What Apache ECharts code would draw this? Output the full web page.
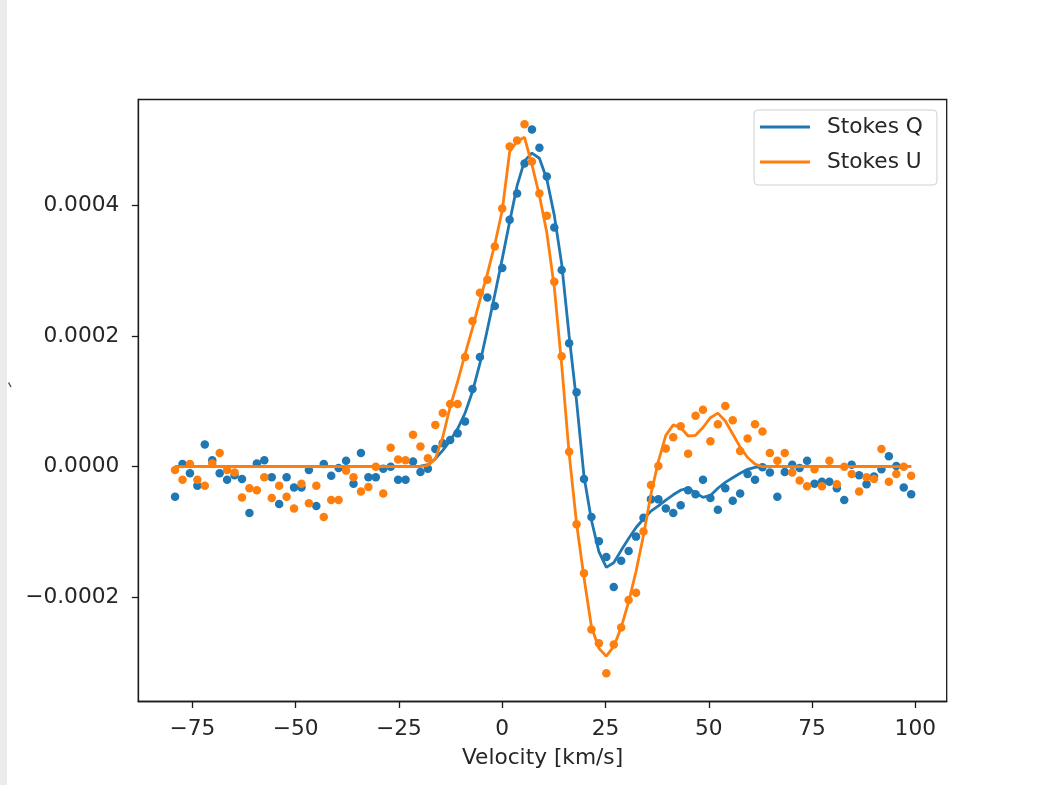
<!DOCTYPE html>
<html>
<head>
<meta charset="utf-8">
<script src="https://cdn.jsdelivr.net/npm/echarts@6/dist/echarts.min.js"></script>
<style>
  html, body { margin: 0; padding: 0; background: #ffffff; }
  #chart { width: 1039px; height: 785px; }
</style>
</head>
<body>
<div id="chart"></div>
<script>
// Velocity grid (km/s)
const velocity = [
  -79.2, -77.4, -75.6, -73.8, -72.0, -70.2, -68.4, -66.6, -64.8, -63.0,
  -61.2, -59.4, -57.6, -55.8, -54.0, -52.2, -50.4, -48.6, -46.8, -45.0,
  -43.2, -41.4, -39.6, -37.8, -36.0, -34.2, -32.4, -30.6, -28.8, -27.0,
  -25.2, -23.4, -21.6, -19.8, -18.0, -16.2, -14.4, -12.6, -10.8, -9.0,
  -7.2, -5.4, -3.6, -1.8, 0.0, 1.8, 3.6, 5.4, 7.2, 9.0,
  10.8, 12.6, 14.4, 16.2, 18.0, 19.8, 21.6, 23.4, 25.2, 27.0,
  28.8, 30.6, 32.4, 34.2, 36.0, 37.8, 39.6, 41.4, 43.2, 45.0,
  46.8, 48.6, 50.4, 52.2, 54.0, 55.8, 57.6, 59.4, 61.2, 63.0,
  64.8, 66.6, 68.4, 70.2, 72.0, 73.8, 75.6, 77.4, 79.2, 81.0,
  82.8, 84.6, 86.4, 88.2, 90.0, 91.8, 93.6, 95.4, 97.2, 99.0
];

// Observed Stokes Q (dots)
const stokesQObs = [
  -0.46e-4, 0.04e-4, -0.10e-4, -0.29e-4, 0.34e-4, 0.10e-4, -0.10e-4, -0.20e-4, -0.13e-4, -0.19e-4,
  -0.71e-4, 0.05e-4, 0.10e-4, -0.16e-4, -0.57e-4, -0.16e-4, -0.32e-4, -0.32e-4, -0.05e-4, -0.60e-4,
  0.04e-4, -0.14e-4, -0.02e-4, 0.09e-4, -0.26e-4, 0.21e-4, -0.16e-4, -0.16e-4, -0.03e-4, 0.00e-4,
  -0.20e-4, -0.20e-4, 0.08e-4, -0.08e-4, -0.03e-4, 0.27e-4, 0.36e-4, 0.41e-4, 0.51e-4, 0.69e-4,
  1.19e-4, 1.68e-4, 2.59e-4, 2.46e-4, 3.04e-4, 3.78e-4, 4.18e-4, 4.64e-4, 5.16e-4, 4.88e-4,
  4.44e-4, 3.66e-4, 3.01e-4, 1.89e-4, 1.14e-4, -0.19e-4, -0.77e-4, -1.14e-4, -1.38e-4, -1.84e-4,
  -1.44e-4, -1.29e-4, -1.07e-4, -0.78e-4, -0.50e-4, -0.50e-4, -0.64e-4, -0.71e-4, -0.59e-4, -0.36e-4,
  -0.42e-4, -0.20e-4, -0.48e-4, -0.66e-4, -0.33e-4, -0.52e-4, -0.41e-4, -0.11e-4, -0.20e-4, -0.01e-4,
  -0.09e-4, -0.46e-4, -0.08e-4, 0.03e-4, -0.02e-4, 0.09e-4, -0.26e-4, -0.23e-4, -0.23e-4, -0.33e-4,
  -0.51e-4, 0.03e-4, -0.13e-4, -0.27e-4, -0.15e-4, -0.04e-4, 0.16e-4, 0.01e-4, -0.32e-4, -0.42e-4
];

// Observed Stokes U (dots)
const stokesUObs = [
  -0.05e-4, -0.20e-4, 0.04e-4, -0.20e-4, -0.29e-4, 0.05e-4, 0.21e-4, -0.05e-4, -0.09e-4, -0.47e-4,
  -0.33e-4, -0.36e-4, -0.16e-4, -0.48e-4, -0.29e-4, -0.46e-4, -0.64e-4, -0.26e-4, -0.56e-4, -0.29e-4,
  -0.77e-4, -0.51e-4, -0.51e-4, -0.06e-4, -0.16e-4, -0.38e-4, -0.31e-4, 0.00e-4, -0.41e-4, 0.29e-4,
  0.11e-4, 0.10e-4, 0.49e-4, 0.31e-4, 0.13e-4, 0.64e-4, 0.82e-4, 0.96e-4, 0.96e-4, 1.68e-4,
  2.23e-4, 2.66e-4, 2.86e-4, 3.37e-4, 3.95e-4, 4.90e-4, 4.99e-4, 5.24e-4, 4.67e-4, 4.18e-4,
  3.84e-4, 2.83e-4, 1.69e-4, 0.23e-4, -0.88e-4, -1.63e-4, -2.49e-4, -2.70e-4, -3.16e-4, -2.72e-4,
  -2.46e-4, -2.04e-4, -1.93e-4, -0.99e-4, -0.28e-4, 0.01e-4, 0.28e-4, 0.45e-4, 0.62e-4, 0.20e-4,
  0.78e-4, 0.87e-4, 0.39e-4, 0.65e-4, 0.93e-4, 0.71e-4, 0.24e-4, 0.43e-4, 0.65e-4, 0.54e-4,
  0.21e-4, 0.09e-4, 0.21e-4, -0.09e-4, -0.21e-4, -0.30e-4, -0.04e-4, -0.30e-4, 0.09e-4, -0.27e-4,
  0.00e-4, -0.11e-4, -0.38e-4, -0.16e-4, -0.19e-4, 0.27e-4, -0.23e-4, -0.11e-4, 0.00e-4, -0.14e-4
];

// Model Stokes Q (line)
const stokesQModel = [
  0, 0, 0, 0, 0, 0, 0, 0, 0, 0,
  0, 0, 0, 0, 0, 0, 0, 0, 0, 0,
  0, 0, 0, 0, 0, 0, 0, 0, 0, 0,
  0, 0, 0, 0.01e-4, 0.03e-4, 0.12e-4, 0.25e-4, 0.40e-4, 0.58e-4, 0.82e-4,
  1.15e-4, 1.58e-4, 2.10e-4, 2.63e-4, 3.18e-4, 3.75e-4, 4.30e-4, 4.68e-4, 4.80e-4, 4.72e-4,
  4.40e-4, 3.85e-4, 3.10e-4, 2.00e-4, 1.00e-4, -0.15e-4, -0.82e-4, -1.30e-4, -1.54e-4, -1.47e-4,
  -1.28e-4, -1.10e-4, -0.93e-4, -0.80e-4, -0.68e-4, -0.60e-4, -0.51e-4, -0.43e-4, -0.36e-4, -0.33e-4,
  -0.40e-4, -0.47e-4, -0.44e-4, -0.33e-4, -0.24e-4, -0.17e-4, -0.10e-4, -0.04e-4, -0.01e-4, 0,
  0, 0, 0, 0, 0, 0, 0, 0, 0, 0,
  0, 0, 0, 0, 0, 0, 0, 0, 0, 0
];

// Model Stokes U (line)
const stokesUModel = [
  0, 0, 0, 0, 0, 0, 0, 0, 0, 0,
  0, 0, 0, 0, 0, 0, 0, 0, 0, 0,
  0, 0, 0, 0, 0, 0, 0, 0, 0, 0,
  0, 0, 0, 0, 0.02e-4, 0.12e-4, 0.45e-4, 0.92e-4, 1.30e-4, 1.72e-4,
  2.12e-4, 2.55e-4, 2.95e-4, 3.40e-4, 3.92e-4, 4.82e-4, 4.98e-4, 5.04e-4, 4.62e-4, 4.15e-4,
  3.58e-4, 2.75e-4, 1.55e-4, 0.20e-4, -0.87e-4, -1.70e-4, -2.45e-4, -2.78e-4, -2.90e-4, -2.75e-4,
  -2.46e-4, -2.07e-4, -1.60e-4, -1.05e-4, -0.42e-4, 0.08e-4, 0.48e-4, 0.64e-4, 0.60e-4, 0.47e-4,
  0.48e-4, 0.60e-4, 0.75e-4, 0.82e-4, 0.70e-4, 0.50e-4, 0.30e-4, 0.14e-4, 0.04e-4, 0,
  0, 0, 0, 0, 0, 0, 0, 0, 0, 0,
  0, 0, 0, 0, 0, 0, 0, 0, 0, 0
];

const xTicks = [-75, -50, -25, 0, 25, 50, 75, 100];
const yTicks = [-0.0002, 0.0, 0.0002, 0.0004];
const seriesNames = ['Stokes Q', 'Stokes U'];
const colors = ['#1f77b4', '#ff7f0e'];

const pairs = (xs, ys) => xs.map((x, i) => [x, ys[i]]);
const minus = s => s.replace('-', '\u2212');

const chart = echarts.init(document.getElementById('chart'), null, { renderer: 'canvas' });
const fontFamily = 'DejaVu Sans';
const textColor = '#262626';
const fs = 21.7;

chart.setOption({
  animation: false,
  backgroundColor: '#ffffff',
  grid: {
    left: 138.3, right: 92.3, top: 99.5, bottom: 83.5,
    show: true, borderColor: '#1a1a1a', borderWidth: 1.3, backgroundColor: 'transparent'
  },
  legend: {
    data: seriesNames,
    orient: 'vertical',
    left: 754, top: 110,
    padding: [4, 14, 10, 6],
    itemGap: 9,
    itemWidth: 50, itemHeight: 3,
    icon: 'rect',
    borderColor: '#d0d0d0', borderWidth: 1, borderRadius: 4,
    backgroundColor: 'rgba(255,255,255,0.8)',
    textStyle: { fontFamily, fontSize: fs, color: textColor, padding: [0, 0, 0, 12], lineHeight: 26 }
  },
  xAxis: {
    type: 'value',
    min: -88.1, max: 107.6,
    name: 'Velocity [km/s]',
    nameLocation: 'middle',
    nameGap: 46,
    nameTextStyle: { fontFamily, fontSize: fs, color: textColor },
    axisLine: { show: true, onZero: false, lineStyle: { color: '#1a1a1a', width: 1.3 } },
    axisTick: { show: true, customValues: xTicks, length: 6.5, lineStyle: { color: '#1a1a1a', width: 1.3 } },
    axisLabel: {
      customValues: xTicks, margin: 17,
      fontFamily, fontSize: fs, color: textColor,
      formatter: v => minus(String(Math.round(v)))
    },
    splitLine: { show: false }
  },
  yAxis: {
    type: 'value',
    min: -0.0003593, max: 0.0005619,
    axisLine: { show: true, onZero: false, lineStyle: { color: '#1a1a1a', width: 1.3 } },
    axisTick: { show: true, customValues: yTicks, length: 6.5, lineStyle: { color: '#1a1a1a', width: 1.3 } },
    axisLabel: {
      customValues: yTicks, margin: 19,
      fontFamily, fontSize: fs, color: textColor,
      formatter: v => {
        const r = Math.round(v * 1e4) / 1e4;
        return r < 0 ? '\u2212' + Math.abs(r).toFixed(4) : Math.abs(r).toFixed(4);
      }
    },
    splitLine: { show: false }
  },
  graphic: [
    { type: 'rect', left: 0, top: 0, shape: { width: 7, height: 785 }, style: { fill: '#ececec' }, silent: true },
    { type: 'line', shape: { x1: 8.5, y1: 382.5, x2: 11, y2: 387 }, style: { stroke: '#555', lineWidth: 1.5 }, silent: true }
  ],
  series: [
    {
      name: 'Q data', type: 'scatter', data: pairs(velocity, stokesQObs),
      symbol: 'circle', symbolSize: 8.5, itemStyle: { color: colors[0], opacity: 1 }, z: 2
    },
    {
      name: seriesNames[0], type: 'line', data: pairs(velocity, stokesQModel),
      showSymbol: false, symbol: 'none', lineStyle: { color: colors[0], width: 2.8 }, itemStyle: { color: colors[0] }, z: 3
    },
    {
      name: 'U data', type: 'scatter', data: pairs(velocity, stokesUObs),
      symbol: 'circle', symbolSize: 8.5, itemStyle: { color: colors[1], opacity: 1 }, z: 4
    },
    {
      name: seriesNames[1], type: 'line', data: pairs(velocity, stokesUModel),
      showSymbol: false, symbol: 'none', lineStyle: { color: colors[1], width: 2.8 }, itemStyle: { color: colors[1] }, z: 5
    }
  ]
});
</script>
</body>
</html>
